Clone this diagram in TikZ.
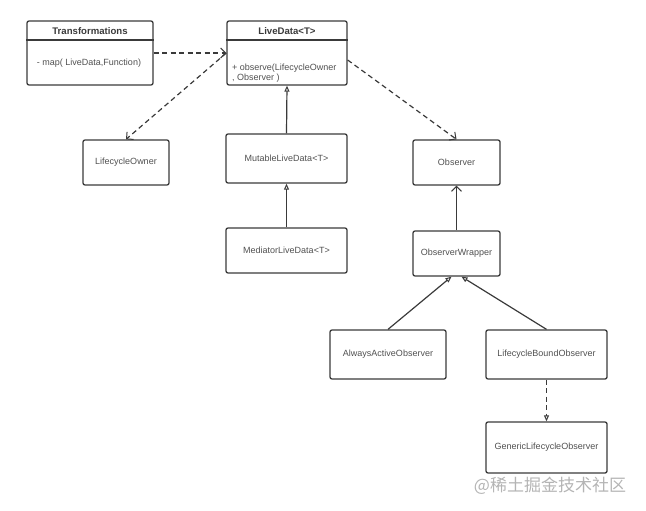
\documentclass[tikz,border=0pt]{standalone}
\usepackage{fontspec}
\setmainfont{Liberation Sans}
\newfontfamily\cjk{Noto Sans CJK SC}
\usetikzlibrary{arrows.meta}
\definecolor{umlline}{HTML}{3A3A3A}
\definecolor{umltext}{HTML}{505050}
\definecolor{wmark}{HTML}{B4B4B4}
\begin{document}
\begin{tikzpicture}[x=1pt,y=-1pt,line join=round,
	font=\fontsize{9}{10.5}\selectfont,text=umltext,
	cls/.style={draw=umlline,line width=1.3pt,rounded corners=2pt,inner sep=0pt},
	head/.style={font=\fontsize{9.6}{11}\selectfont\bfseries,text=umlline},
	dep/.style={draw=umlline,line width=1.2pt,dash pattern=on 5pt off 3.5pt,-{Straight Barb[length=5pt,width=10pt,line width=1pt]}},
	assoc/.style={draw=umlline,line width=1.2pt,-{Straight Barb[length=5pt,width=10pt,line width=1pt]}},
	inherit/.style={draw=umlline,line width=1.2pt,-{Triangle[open,length=6pt,width=5pt,line width=1pt]}},
	inheritdash/.style={inherit,dash pattern=on 5pt off 3.5pt}]
	\useasboundingbox (0,0) rectangle (646,511);
	% class boxes with a header
	\node[cls,minimum width=126,minimum height=64] (trans) at (90,53) {};
	\node[head] (transhead) at (90,31) {Transformations};
	\draw[umlline,line width=1.3pt] (trans.west |- 0,40) -- (trans.east |- 0,40);
	\node (transbody) at (89,63) {- map( LiveData,Function)};
	\node[cls,minimum width=120,minimum height=64] (live) at (287,53) {};
	\node[head] (livehead) at (287,31) {LiveData<T>};
	\draw[umlline,line width=1.3pt] (live.west |- 0,40) -- (live.east |- 0,40);
	\node[anchor=north west,align=left,inner sep=0pt] (livebody) at (232,63.5) {+ observe(LifecycleOwner\\, Observer )};
	% plain boxes
	\node[cls,minimum width=86,minimum height=45] (owner) at (126,162.5) {LifecycleOwner};
	\node[cls,minimum width=121,minimum height=49] (mutable) at (286.5,158.5) {MutableLiveData<T>};
	\node[cls,minimum width=121,minimum height=45] (mediator) at (286.5,250.5) {MediatorLiveData<T>};
	\node[cls,minimum width=87,minimum height=45] (observer) at (456.5,162.5) {Observer};
	\node[cls,minimum width=87,minimum height=45] (wrapper) at (456.5,253.5) {ObserverWrapper};
	\node[cls,minimum width=116,minimum height=49] (always) at (388,354.5) {AlwaysActiveObserver};
	\node[cls,minimum width=121,minimum height=49] (bound) at (546.5,354.5) {LifecycleBoundObserver};
	\node[cls,minimum width=121,minimum height=51] (generic) at (546.5,447.5) {GenericLifecycleObserver};
	% connectors
	\draw[dep] (trans.east) -- (live.west);
	\draw[dep] (live.west) -- (owner.north);
	\draw[dep] ([yshift=-7pt]live.east) -- (observer.north);
	\draw[inherit] (mutable.north) -- (live.south);
	\draw[inherit] (mediator.north) -- (mutable.south);
	\draw[assoc] (wrapper.north) -- (observer.south);
	\draw[inherit] (always.north) -- ([xshift=-5pt]wrapper.south);
	\draw[inherit] (bound.north) -- ([xshift=5pt]wrapper.south);
	\draw[inheritdash] (bound.south) -- (generic.north);
	% watermark
	\node[text=wmark,font=\cjk\fontsize{17}{20}\selectfont] (mark) at (550,486) {@稀土掘金技术社区};
\end{tikzpicture}
\end{document}
